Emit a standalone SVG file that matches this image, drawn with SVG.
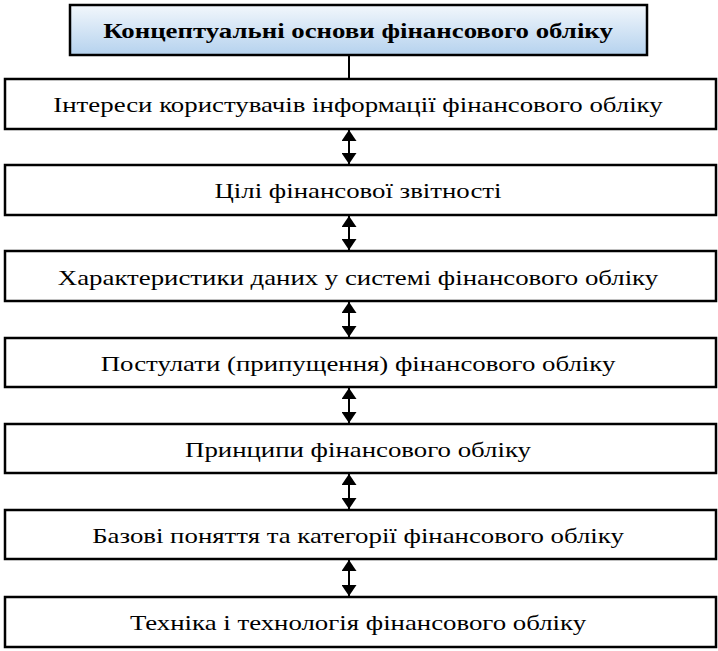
<svg xmlns="http://www.w3.org/2000/svg" width="718" height="651" viewBox="0 0 718 651">
<defs>
<linearGradient id="g" x1="0" y1="0" x2="0" y2="1">
<stop offset="0" stop-color="#f2f7fc"/>
<stop offset="1" stop-color="#b5d2ee"/>
</linearGradient>
<marker id="ah" markerWidth="11" markerHeight="15" viewBox="0 0 11 15" refX="11" refY="7.5" orient="auto-start-reverse" markerUnits="userSpaceOnUse">
<path d="M0,0 L11,7.5 L0,15 Z" fill="#000"/>
</marker>
</defs>
<style>
.box{fill:#fff;stroke:#000;stroke-width:2.5}
.t{font-family:"Liberation Serif","Times New Roman",serif;font-size:22px;fill:#000;text-anchor:middle}
.c{stroke:#000;stroke-width:2;fill:none}
</style>
<rect width="718" height="651" fill="#fff"/>
<g id="connectors">
<line class="c" x1="349" y1="55" x2="349" y2="79"/>
<line class="c" x1="349" y1="130" x2="349" y2="164" marker-start="url(#ah)" marker-end="url(#ah)"/>
<line class="c" x1="349" y1="216" x2="349" y2="250" marker-start="url(#ah)" marker-end="url(#ah)"/>
<line class="c" x1="349" y1="302" x2="349" y2="337" marker-start="url(#ah)" marker-end="url(#ah)"/>
<line class="c" x1="349" y1="388" x2="349" y2="423" marker-start="url(#ah)" marker-end="url(#ah)"/>
<line class="c" x1="349" y1="474" x2="349" y2="509" marker-start="url(#ah)" marker-end="url(#ah)"/>
<line class="c" x1="349" y1="560" x2="349" y2="596" marker-start="url(#ah)" marker-end="url(#ah)"/>
</g>
<g id="n0">
<rect x="70" y="5" width="577" height="50" fill="url(#g)" stroke="#000" stroke-width="2.5"/>
<text class="t" transform="matrix(1.22 0 0 1 358 0)" x="0" y="38" font-weight="bold">Концептуальні основи фінансового обліку</text>
</g>
<g id="n1">
<rect class="box" x="5" y="79" width="711" height="50"/>
<text class="t" transform="matrix(1.22 0 0 1 358 0)" x="0" y="112">Інтереси користувачів інформації фінансового обліку</text>
</g>
<g id="n2">
<rect class="box" x="5" y="165" width="711" height="50"/>
<text class="t" transform="matrix(1.22 0 0 1 358 0)" x="0" y="198">Цілі фінансової звітності</text>
</g>
<g id="n3">
<rect class="box" x="5" y="251" width="711" height="50"/>
<text class="t" transform="matrix(1.22 0 0 1 358 0)" x="0" y="285">Характеристики даних у системі фінансового обліку</text>
</g>
<g id="n4">
<rect class="box" x="5" y="338" width="711" height="49"/>
<text class="t" transform="matrix(1.22 0 0 1 358 0)" x="0" y="371">Постулати (припущення) фінансового обліку</text>
</g>
<g id="n5">
<rect class="box" x="5" y="424" width="711" height="49"/>
<text class="t" transform="matrix(1.22 0 0 1 358 0)" x="0" y="457">Принципи фінансового обліку</text>
</g>
<g id="n6">
<rect class="box" x="5" y="510" width="711" height="49"/>
<text class="t" transform="matrix(1.22 0 0 1 358 0)" x="0" y="543">Базові поняття та категорії фінансового обліку</text>
</g>
<g id="n7">
<rect class="box" x="5" y="597" width="711" height="50"/>
<text class="t" transform="matrix(1.22 0 0 1 358 0)" x="0" y="630">Техніка і технологія фінансового обліку</text>
</g>
</svg>
